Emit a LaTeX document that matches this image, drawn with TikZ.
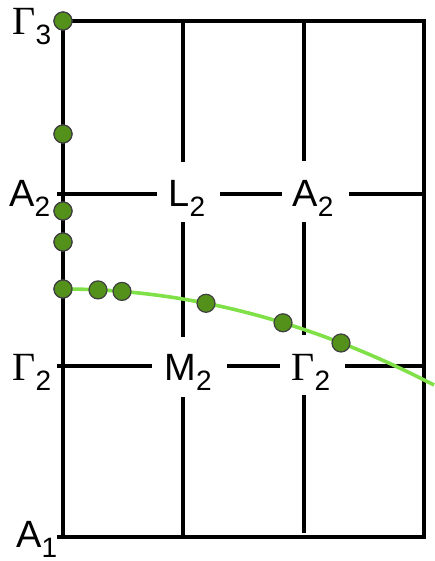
\documentclass[tikz,border=0pt]{standalone}
\usepackage{fontspec}
\setmainfont{Liberation Sans}
\newfontfamily\serifgreek{Liberation Serif}
\usetikzlibrary{positioning}
\definecolor{leaf}{RGB}{84,145,26}
\definecolor{lime}{RGB}{128,224,72}
\newcommand{\sym}[2]{#1\raisebox{-5pt}{\fontsize{14}{14}\selectfont #2}}
\newcommand{\Gam}{{\serifgreek\fontsize{20}{20}\selectfont Γ}}
\tikzset{
  frame/.style={line width=2pt},
  gridline/.style={line width=1.6pt},
  band/.style={draw=lime,line width=1.8pt},
  kpt/.style={circle,fill=leaf,draw=black!75,line width=0.6pt,
    minimum size=9pt,inner sep=0pt},
  lbl/.style={font=\fontsize{19}{19}\selectfont,anchor=base west,inner sep=0pt},
}

\begin{document}
\begin{tikzpicture}[x=0.5pt,y=-0.5pt]
  \useasboundingbox (0,0) rectangle (434,561);
  % grid
  \foreach \x/\a/\b in {183/21/162,183/222/337,183/397/537,304/21/161,304/222/335,304/395/533}
    \draw[gridline] (\x,\a) -- (\x,\b);
  \foreach \y/\a/\b in {194/57/157,194/220/282,194/349/424,366/57/152,366/227/280,366/345/424}
    \draw[gridline] (\a,\y) -- (\b,\y);
  \draw[frame] (63,537) -- (63,21) -- (424,21) -- (424,537) -- (57,537);
  % points
  \foreach \y [count=\i] in {21,134,211,242,289}
    \node[kpt] (k\i) at (63,\y) {};
  \coordinate (edge) at (434,385);
  \draw[band] (k5.center) .. controls (186.7,289) and (310.3,321) .. (edge);
  \foreach \x/\y [count=\i from 6] in {98/289.9,122/291.4,206/303.3,283/322.8,341/343}
    \node[kpt] (k\i) at (\x,\y) {};
  \foreach \i in {1,...,5} \node[kpt] at (k\i) {};
  % labels
  \node[lbl] (g3) at (12,35) {\sym{\Gam}{3}};
  \node[lbl] (a2l) at (9,206) {\sym{A}{2}};
  \node[lbl] (g2l) at (12,380) {\sym{\Gam}{2}};
  \node[lbl] (a1) at (16,547) {\sym{A}{1}};
  \node[lbl] (l2) at (168,206) {\sym{L}{2}};
  \node[lbl] (a2) at (292,206) {\sym{A}{2}};
  \node[lbl] (m2) at (164,380) {\sym{M}{2}};
  \node[lbl] (g2) at (291,380) {\sym{\Gam}{2}};
\end{tikzpicture}
\end{document}
